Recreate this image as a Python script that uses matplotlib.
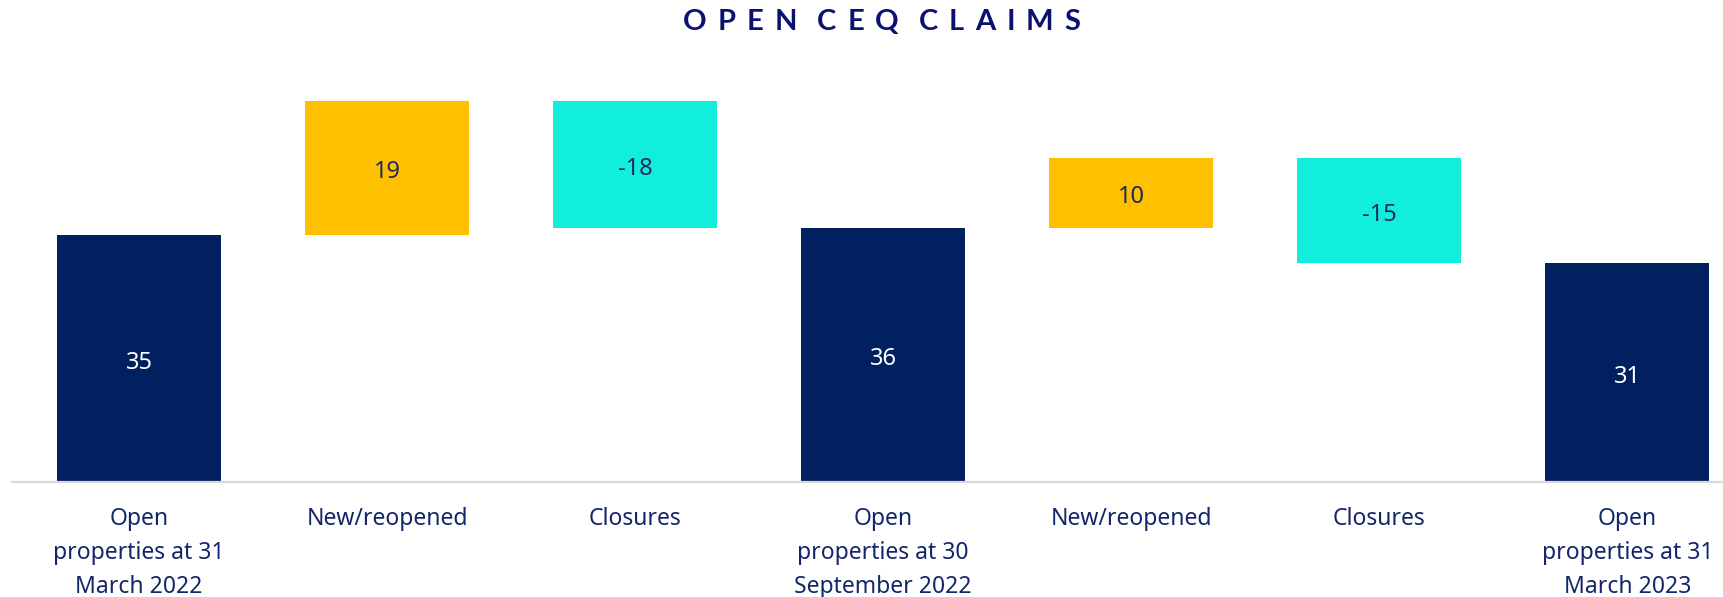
import numpy as np
import matplotlib
matplotlib.use('Agg')
import matplotlib.pyplot as plt

# waterfall data
categories = ['Open\nproperties at 31\nMarch 2022', 'New/reopened', 'Closures',
              'Open\nproperties at 30\nSeptember 2022', 'New/reopened', 'Closures',
              'Open\nproperties at 31\nMarch 2023']
values = [35, 19, -18, 36, 10, -15, 31]
kinds = ['total', 'up', 'down', 'total', 'up', 'down', 'total']
title = 'OPEN CEQ CLAIMS'

colors = {'total': '#00205f', 'up': '#ffc000', 'down': '#12eedc'}
text_colors = {'total': 'white', 'up': '#1c2b5e', 'down': '#1c2b5e'}
label_color = '#14266a'

fig = plt.figure(figsize=(17.24, 5.97), dpi=100)
ax = fig.add_axes([12 / 1724, 115 / 597, 1 - 12 / 1724, 395 / 597])

# running totals for the floating bars
bottoms = []
heights = []
running = 0
for v, k in zip(values, kinds):
    if k == 'total':
        bottoms.append(0)
        heights.append(v)
        running = v
    elif k == 'up':
        bottoms.append(running)
        heights.append(v)
        running += v
    else:
        running += v
        bottoms.append(running)
        heights.append(-v)

x = np.arange(len(values))
ax.bar(x, heights, bottom=bottoms, width=0.66,
       color=[colors[k] for k in kinds], edgecolor='none')

for xi, b, h, v, k in zip(x, bottoms, heights, values, kinds):
    ax.annotate(str(v), (xi, b + h / 2), xytext=(0, -3), textcoords='offset points',
                ha='center', va='center', fontsize=17, family='Noto Sans',
                color=text_colors[k])

ax.set_xlim(-0.512, 6.39)
ax.set_ylim(0, 56)
ax.set_xticks(x)
ax.set_xticklabels(categories, fontsize=16.5, family='Noto Sans',
                   color=label_color, linespacing=1.55, va='top')
ax.tick_params(axis='x', length=0, pad=18)
ax.set_yticks([])
for s in ['top', 'right', 'left']:
    ax.spines[s].set_visible(False)
ax.spines['bottom'].set_color('#d9d9d9')
ax.spines['bottom'].set_linewidth(1.6)

# title with wide letter spacing, placed char by char
renderer = fig.canvas.get_renderer()
tracking = 11
space_w = 9
chars = []
cx = 0
for ch in title:
    if ch == ' ':
        cx += space_w
        continue
    t = fig.text(0, 1 - 22 / 597, ch, fontsize=21, family='Lato',
                 fontweight='bold', color='#0a1170', va='center', ha='left')
    w = t.get_window_extent(renderer).width
    chars.append((t, cx))
    cx += w + tracking
total_w = cx - tracking
start = 882 - total_w / 2
for t, off in chars:
    t.set_x((start + off) / 1724)

fig.savefig('out.png', dpi=100)
